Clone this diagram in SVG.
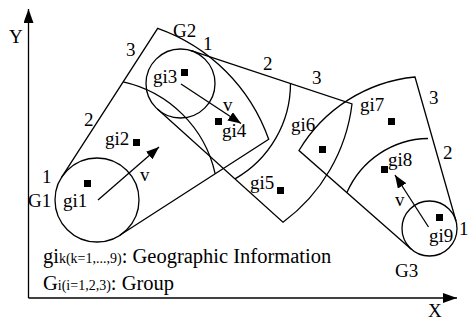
<svg xmlns="http://www.w3.org/2000/svg" width="469" height="322" viewBox="0 0 469 322">
<defs>
<marker id="ah" viewBox="0 0 13 10" refX="13" refY="5" markerWidth="13" markerHeight="10" markerUnits="userSpaceOnUse" orient="auto"><path d="M0,0 L13,5 L0,10 z" fill="#000"/></marker>
<marker id="ax" viewBox="0 0 14 10" refX="14" refY="5" markerWidth="14" markerHeight="10" markerUnits="userSpaceOnUse" orient="auto"><path d="M0,0 L14,5 L0,10 z" fill="#000"/></marker>
</defs>
<style>
.s{fill:none;stroke:#000;stroke-width:1.3}
text{font-family:'Liberation Serif','Times New Roman',Times,'DejaVu Serif',serif;font-size:19px;fill:#000}
.lg{font-size:20.5px}
.sm{font-size:14px}
.p{fill:#000}
</style>
<rect width="469" height="322" fill="#fff"/>
<g id="axes">
<path class="s" d="M28.5,298 L28.5,9" marker-end="url(#ax)"/>
<path class="s" d="M28.5,298 L457,298" marker-end="url(#ax)"/>
<text x="9" y="43">Y</text>
<text x="428" y="317">X</text>
</g>
<g id="G1">
<circle class="s" cx="97" cy="200" r="42"/>
<path class="s" d="M61.7,177.2 L157.7,28.3 A182,182 0 0 1 268.7,139.3 L119.8,235.3"/>
<path class="s" d="M123.1,81.8 A121,121 0 0 1 215.2,173.8"/>
<text x="28" y="207">G1</text>
<text x="42" y="183">1</text>
<text x="84" y="126">2</text>
<text x="126" y="56">3</text>
</g>
<g id="G2">
<circle class="s" cx="180.5" cy="83.5" r="34.5"/>
<path class="s" d="M191.2,50.7 L352,104 A172.5,172.5 0 0 1 283,222.2 L157.4,109.1"/>
<path class="s" d="M290.5,83 A110,110 0 0 1 235,178.9"/>
<text x="173" y="37">G2</text>
<text x="203" y="50">1</text>
<text x="263" y="70">2</text>
<text x="312" y="84">3</text>
</g>
<g id="G3">
<circle class="s" cx="429.5" cy="228.5" r="27.5"/>
<path class="s" d="M456,221 L415,77 A152,152 0 0 0 299,150.5 L411.3,249.2"/>
<path class="s" d="M346.9,192.6 A90,90 0 0 1 428,138.5"/>
<text x="395" y="277">G3</text>
<text x="459" y="235">1</text>
<text x="443" y="159">2</text>
<text x="429" y="104">3</text>
</g>
<g id="gi1"><rect class="p" x="84" y="180" width="7" height="7"/><text x="63" y="207">gi1</text></g>
<g id="gi2"><rect class="p" x="133" y="139" width="7" height="7"/><text x="105" y="145">gi2</text></g>
<g id="gi3"><rect class="p" x="181" y="69" width="7" height="7"/><text x="153" y="83">gi3</text></g>
<g id="gi4"><rect class="p" x="215" y="118" width="7" height="7"/><text x="222" y="137">gi4</text></g>
<g id="gi5"><rect class="p" x="277" y="187" width="7" height="7"/><text x="250" y="189">gi5</text></g>
<g id="gi6"><rect class="p" x="319" y="146" width="7" height="7"/><text x="291" y="131">gi6</text></g>
<g id="gi7"><rect class="p" x="388" y="118" width="7" height="7"/><text x="360" y="111">gi7</text></g>
<g id="gi8"><rect class="p" x="381" y="166" width="7" height="7"/><text x="388" y="166">gi8</text></g>
<g id="gi9"><rect class="p" x="436" y="214" width="7" height="7"/><text x="429" y="242">gi9</text></g>
<g id="connectors">
<path class="s" d="M98,200 L159,147" marker-end="url(#ah)"/>
<text x="140" y="181">v</text>
<path class="s" d="M181,84 L241,123.5" marker-end="url(#ah)"/>
<text x="223" y="111">v</text>
<path class="s" d="M428.5,227 L395,175" marker-end="url(#ah)"/>
<text x="395" y="206">v</text>
</g>
<g id="legend">
<text class="lg" x="43" y="263">gi<tspan class="sm">k(k=1,...,9)</tspan>: Geographic Information</text>
<text class="lg" x="43" y="290">G<tspan class="sm">i(i=1,2,3)</tspan>: Group</text>
</g>
</svg>
